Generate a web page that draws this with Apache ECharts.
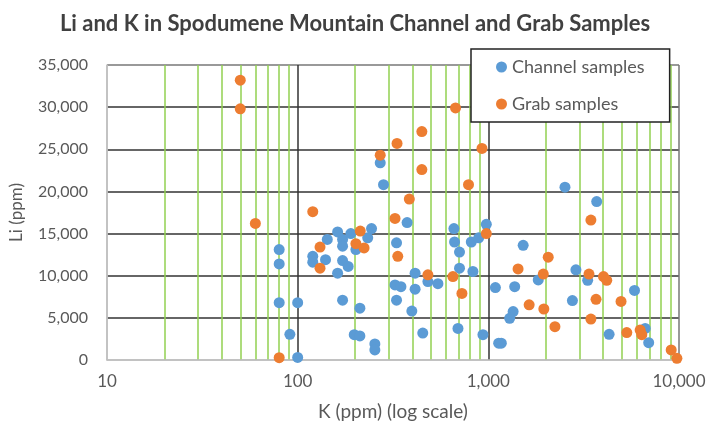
<!DOCTYPE html>
<html>
<head>
<meta charset="utf-8">
<script src="https://cdn.jsdelivr.net/npm/echarts@6/dist/echarts.min.js"></script>
<style>html,body{margin:0;padding:0;background:#fff}#c{width:710px;height:429px}</style>
</head>
<body>
<div id="c"></div>
<script>
const titleText = 'Li and K in Spodumene Mountain Channel and Grab Samples';
const xName = 'K (ppm) (log scale)';
const yName = 'Li (ppm)';
const seriesNames = ['Channel samples', 'Grab samples'];

const channelK = [80,80,80,100,91,100,120,120,143,140,162,172,172,172,184,162,190,202,233,244,271,282,375,330,413,482,544,324,348,413,172,212,330,397,198,212,254,254,453,693,937,1133,660,665,706,814,976,890,706,830,1089,2523,3701,1523,1827,2880,3319,1375,5843,2760,1349,1294,4300,6650,6934,1170];
const channelLi = [13100,11400,6800,6800,3050,300,12300,11600,14300,11900,15200,14300,13500,11800,11100,10300,15000,13100,14500,15600,23400,20800,16300,13900,10300,9300,9050,8900,8700,8400,7100,6150,7100,5800,3000,2850,1900,1200,3200,3750,3000,2000,15600,14000,12800,14000,16100,14500,10900,10500,8600,20500,18800,13600,9500,10700,9450,8700,8250,7050,5750,4950,3050,3750,2050,2000];

const grabK = [50,50,120,60,80,673,448,332,271,926,448,787,385,324,213,202,223,131,131,335,482,652,727,976,3451,2061,1432,1942,3372,4018,4179,1637,1955,3672,4966,3451,2235,5322,6254,6380,9100,9750];
const grabLi = [33200,29800,17600,16200,270,29900,27100,25700,24300,25100,22600,20800,19100,16800,15300,13800,13300,13400,10900,12300,10100,9900,7900,15000,16600,12200,10800,10200,10200,9900,9450,6550,6050,7200,6950,4850,3950,3250,3550,3000,1200,200];

const minorK = [20,30,40,50,60,70,80,90,200,300,400,500,600,700,800,900,2000,3000,4000,5000,6000,7000,8000,9000];

const zip = (a, b) => a.map((v, i) => [v, b[i]]);
const fmt = v => Number(v).toLocaleString('en-US');
const FONT = 'Lato';

const chart = echarts.init(document.getElementById('c'), null, {renderer: 'canvas'});
chart.setOption({
  animation: false,
  backgroundColor: '#fff',
  title: {
    text: titleText, left: 'center', top: 8,
    textStyle: {fontFamily: FONT, fontSize: 22, fontWeight: 'bold', color: '#404040'}
  },
  legend: {
    data: seriesNames, orient: 'vertical', left: 471, top: 49, z: 100,
    padding: [9, 25, 9, 25], itemGap: 19, itemWidth: 11, itemHeight: 11,
    icon: 'circle', backgroundColor: '#fff', borderColor: '#222', borderWidth: 1.5,
    textStyle: {fontFamily: FONT, fontSize: 18, color: '#595959', lineHeight: 18}
  },
  grid: {left: 107, right: 31, top: 65, bottom: 69},
  xAxis: [
    {
      type: 'log', logBase: 10, min: 10, max: 10000, position: 'bottom',
      axisLine: {show: false}, axisLabel: {show: false},
      axisTick: {show: false, customValues: minorK},
      splitLine: {show: true, lineStyle: {color: '#92D050', width: 1.5}}
    },
    {
      type: 'log', logBase: 10, min: 10, max: 10000, position: 'bottom',
      name: xName, nameLocation: 'middle', nameGap: 42,
      nameTextStyle: {fontFamily: FONT, fontSize: 19, color: '#595959'},
      axisLine: {show: true, lineStyle: {color: '#bfbfbf', width: 1.5}},
      axisTick: {show: false},
      axisLabel: {fontFamily: FONT, fontSize: 17, color: '#595959', margin: 13, formatter: fmt},
      splitLine: {show: true, lineStyle: {color: ['#bfbfbf', '#333', '#333', '#777'], width: 1.5}}
    }
  ],
  yAxis: {
    type: 'value', min: 0, max: 35000, interval: 5000,
    name: yName, nameLocation: 'middle', nameGap: 82,
    nameTextStyle: {fontFamily: FONT, fontSize: 17, color: '#595959'},
    axisLine: {show: true, lineStyle: {color: '#bfbfbf', width: 1.5}},
    axisTick: {show: false},
    axisLabel: {fontFamily: FONT, fontSize: 16, color: '#595959', margin: 19, formatter: fmt},
    splitLine: {show: true, lineStyle: {color: ['#bfbfbf', '#333', '#333', '#333', '#333', '#333', '#333', '#777'], width: 1.5}}
  },
  series: [
    {
      name: seriesNames[0], type: 'scatter', xAxisIndex: 1, z: 3, symbolSize: 11,
      itemStyle: {color: '#5B9BD5', opacity: 1},
      data: zip(channelK, channelLi)
    },
    {
      name: seriesNames[1], type: 'scatter', xAxisIndex: 1, z: 4, symbolSize: 11,
      itemStyle: {color: '#ED7D31', opacity: 1},
      data: zip(grabK, grabLi)
    }
  ]
});
</script>
</body>
</html>
